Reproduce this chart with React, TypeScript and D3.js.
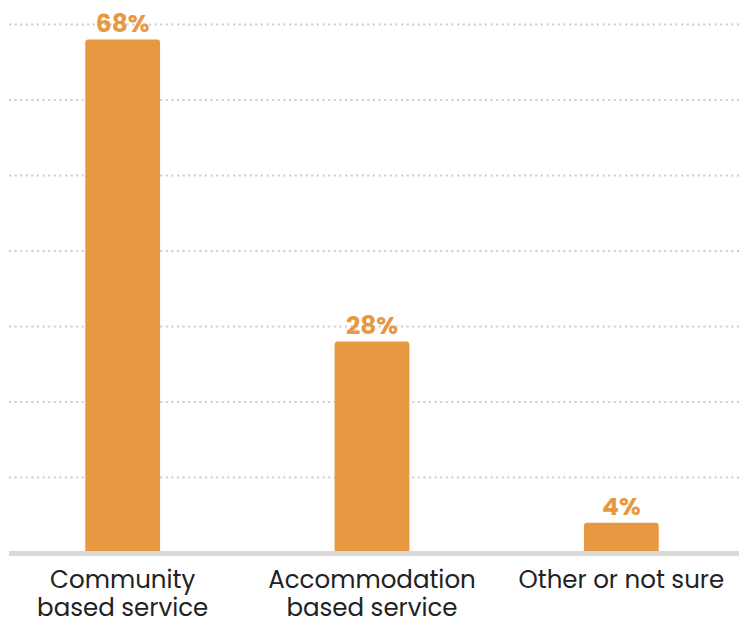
import { useEffect, useRef } from "react";
import { select, scaleBand, scaleLinear, range } from "d3";

const categories = ["Community based service", "Accommodation based service", "Other or not sure"];
const labelLines = [["Community", "based service"], ["Accommodation", "based service"], ["Other or not sure"]];
const values = [68, 28, 4];
const gridTicks = [10, 20, 30, 40, 50, 60, 70];

const WIDTH = 739;
const HEIGHT = 619;
const ORANGE = "#E99842";
const FONT = "Poppins, 'Open Sans', 'DejaVu Sans', sans-serif";

function topRoundedBar(x: number, y: number, w: number, h: number, r: number): string {
	return `M${x},${y + h} L${x},${y + r} Q${x},${y} ${x + r},${y} L${x + w - r},${y} Q${x + w},${y} ${x + w},${y + r} L${x + w},${y + h} Z`;
}

function drawChart(svgEl: SVGSVGElement) {
	const svg = select(svgEl);
	svg.selectAll("*").remove();

	const left = 9;
	const baseY = 551;

	const xScale = scaleBand<string>()
		.domain(categories)
		.range([-2, 746])
		.paddingInner(0.7)
		.paddingOuter(0.35);
	const yScale = scaleLinear().domain([0, 70]).range([553, 24.5]);

	// dotted grid
	svg.append("g")
		.selectAll("line")
		.data(gridTicks)
		.enter()
		.append("line")
		.attr("x1", left)
		.attr("x2", WIDTH)
		.attr("y1", (d) => yScale(d))
		.attr("y2", (d) => yScale(d))
		.attr("stroke", "#cccccc")
		.attr("stroke-width", 2)
		.attr("stroke-dasharray", "2 3.6");

	// bars
	svg.append("g")
		.selectAll("path")
		.data(values)
		.enter()
		.append("path")
		.attr("d", (d, i) => {
			const x = xScale(categories[i]) ?? 0;
			const y = yScale(d);
			return topRoundedBar(x, y, xScale.bandwidth(), baseY - y, 3);
		})
		.attr("fill", ORANGE);

	// baseline
	svg.append("rect")
		.attr("x", left)
		.attr("y", baseY)
		.attr("width", WIDTH - left)
		.attr("height", 5)
		.attr("fill", "#d9d9d9");

	// value labels
	svg.append("g")
		.selectAll("text")
		.data(values)
		.enter()
		.append("text")
		.attr("x", (d, i) => (xScale(categories[i]) ?? 0) + xScale.bandwidth() / 2)
		.attr("y", (d) => yScale(d) - 8)
		.attr("text-anchor", "middle")
		.attr("font-family", FONT)
		.attr("font-weight", 700)
		.attr("font-size", 25)
		.attr("fill", ORANGE)
		.text((d) => `${d}%`);

	// category labels
	const cat = svg.append("g")
		.selectAll("text")
		.data(categories)
		.enter()
		.append("text")
		.attr("x", (d) => (xScale(d) ?? 0) + xScale.bandwidth() / 2)
		.attr("y", 588)
		.attr("text-anchor", "middle")
		.attr("font-family", FONT)
		.attr("font-size", 24.5)
		.attr("fill", "#222222");

	cat.each(function (d, i) {
		const t = select(this);
		range(labelLines[i].length).forEach((j) => {
			t.append("tspan")
				.attr("x", (xScale(d) ?? 0) + xScale.bandwidth() / 2)
				.attr("dy", j === 0 ? 0 : 28)
				.text(labelLines[i][j]);
		});
	});
}

export default function App() {
	const svgRef = useRef<SVGSVGElement>(null);

	useEffect(() => {
		if (svgRef.current) drawChart(svgRef.current);
	}, []);

	return (
		<svg
			ref={svgRef}
			width={WIDTH}
			height={HEIGHT}
			style={{ position: "absolute", left: 0, top: 0, background: "#fff" }}
		/>
	);
}
